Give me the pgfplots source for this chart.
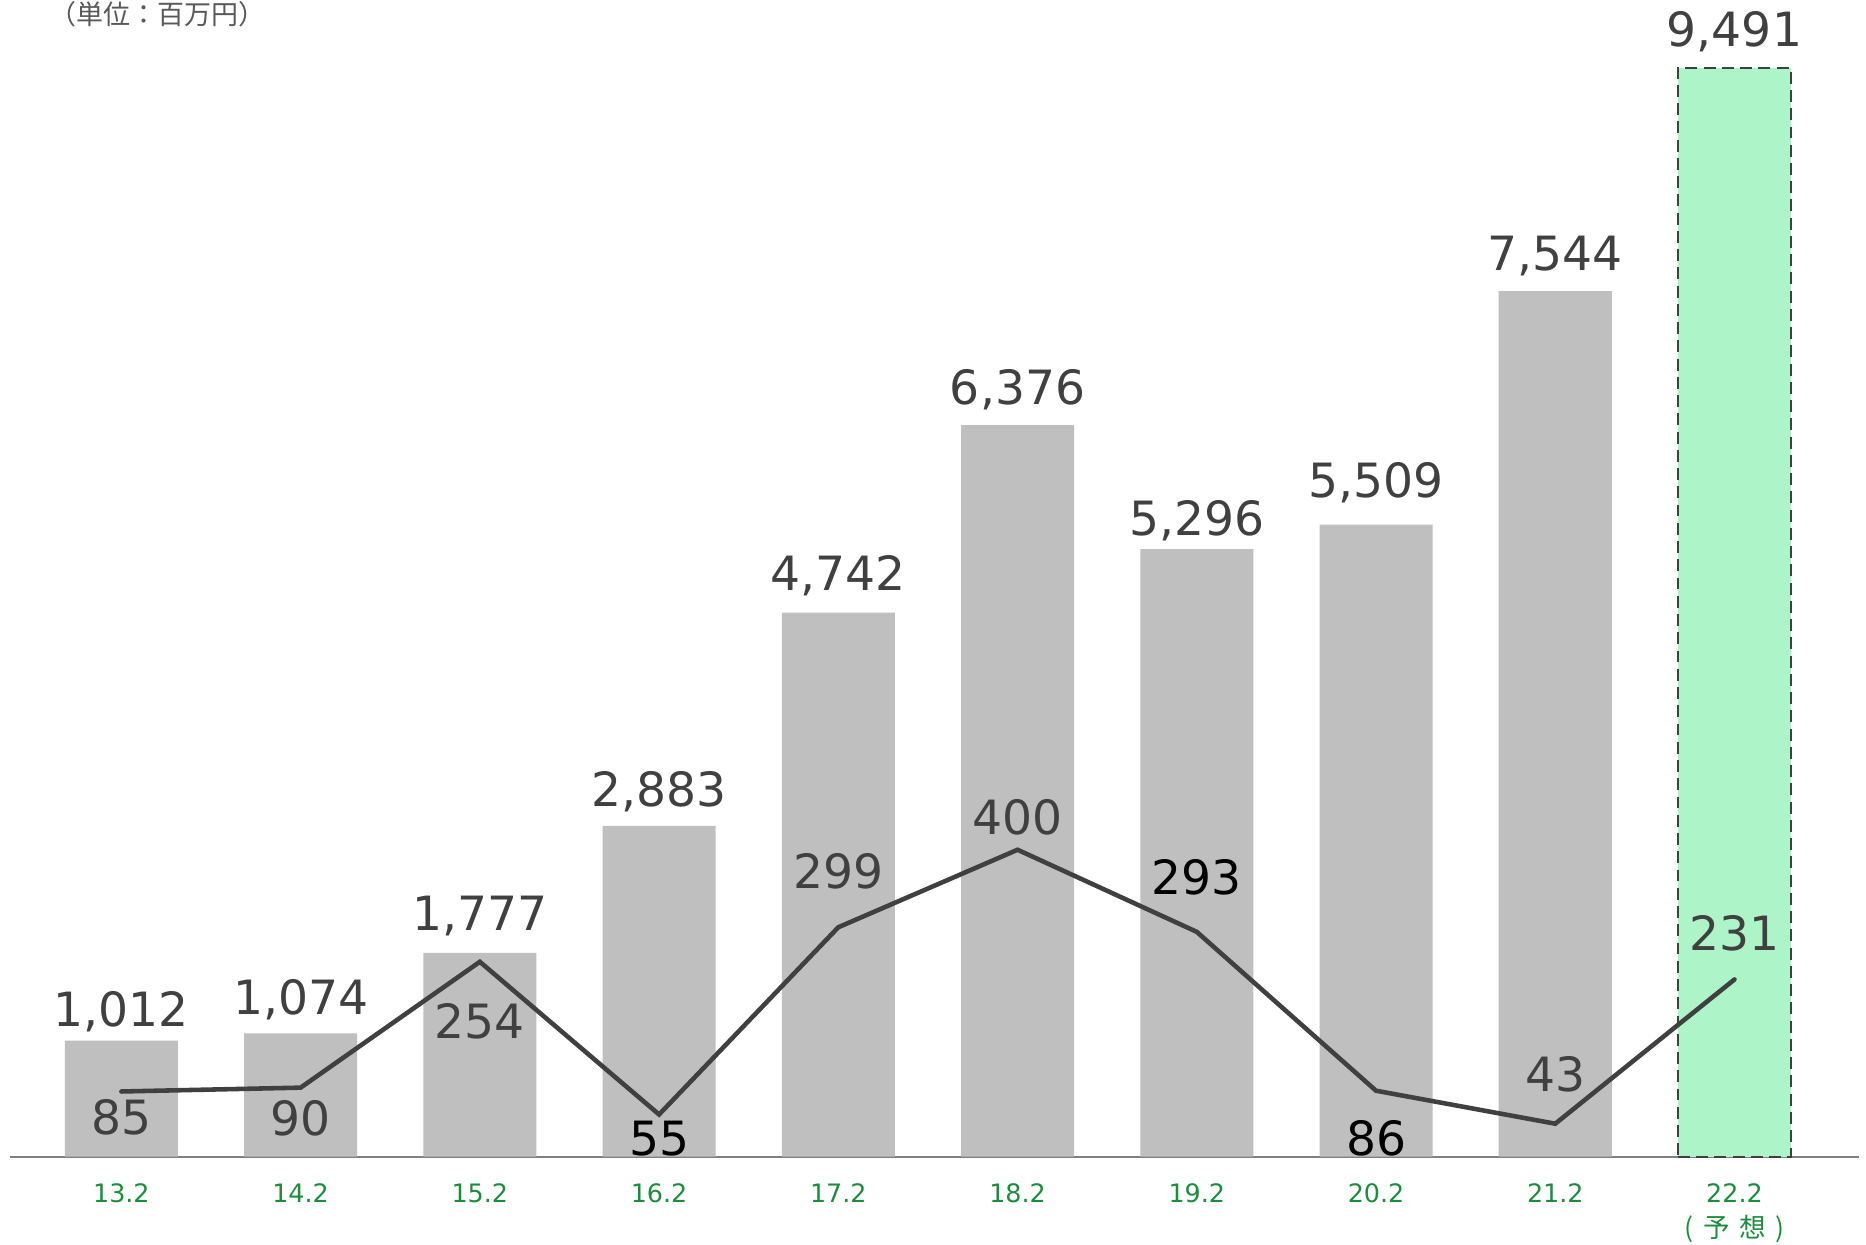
\documentclass[border=0pt]{standalone}
\usepackage{fontspec}
\usepackage{pgfplots}
\pgfplotsset{compat=1.18}
\setmainfont{DejaVu Sans}
\newfontfamily\cjk{Noto Sans CJK JP}
\definecolor{txtgray}{HTML}{404040}
\definecolor{bargray}{HTML}{BFBFBF}
\definecolor{bargreen}{HTML}{ADF5C8}
\definecolor{dashgray}{HTML}{404040}
\definecolor{linegray}{HTML}{404040}
\definecolor{tickgreen}{HTML}{1E8C3E}
\definecolor{axisgray}{HTML}{808080}
\definecolor{unitgray}{HTML}{595959}
\pgfplotsset{/pgf/number format/assume math mode=true}

\pgfplotstableread{
x y dy
0 1012 3.46
1 1074 4.81
2 1777 5.56
3 2883 4.96
4 4742 5.56
5 6376 5.26
6 5296 3.46
7 5509 6.91
8 7544 5.26
}\sales

\pgfplotstableread{
x y dy
9 9491 5.26
}\forecast

\pgfplotstableread{
x y dy c
0 85 -10.9 0
1 90 -11.95 0
2 254 -19.3 0
3 55 -10.3 100
4 299 9.8 0
5 400 3.8 0
6 293 9.5 100
7 86 -16.3 100
8 43 8.0 0
9 231 7.4 0
}\profit

\begin{document}
\begin{tikzpicture}
\begin{axis}[
  name=main,
  width=466.2pt, height=274.5pt, scale only axis,
  xmin=-0.624, xmax=9.694, ymin=0, ymax=9491,
  axis x line=bottom, axis y line=none,
  x axis line style={-, draw=axisgray, line width=0.6pt},
  xtick={0,...,9}, major tick length=0pt,
  xticklabels={13.2,14.2,15.2,16.2,17.2,18.2,19.2,20.2,21.2,22.2},
  xticklabel style={anchor=base, yshift=-11.6pt, text=tickgreen, font=\fontsize{6.4}{8}\selectfont},
  ytick=\empty,
  clip=false,
]
\addplot[ybar, bar width=28.5pt, bar shift=0pt, fill=bargray, draw=none,
  nodes near coords,
  visualization depends on={\thisrow{dy}\as\dy},
  nodes near coords style={anchor=base, yshift=\dy pt, text=txtgray, font=\fontsize{11.9}{14}\selectfont}]
  table[x=x, y=y] {\sales};
\addplot[ybar, bar width=28.5pt, bar shift=0pt, fill=bargreen, draw=dashgray, line width=0.6pt, dash pattern=on 3pt off 1.6pt,
  nodes near coords,
  visualization depends on={\thisrow{dy}\as\dy},
  nodes near coords style={anchor=base, yshift=\dy pt, text=txtgray, font=\fontsize{11.9}{14}\selectfont, solid}]
  table[x=x, y=y] {\forecast};
\node[anchor=base, yshift=-20.4pt, text=tickgreen, font=\cjk\fontsize{6.7}{8}\selectfont] at (axis cs:9,0) {(\hspace{0.35em}予\hspace{0.35em}想\hspace{0.35em})};
\node[text=unitgray, font=\cjk\fontsize{6.8}{8}\selectfont] at (axis description cs:0.0801,1.0492) {（単位：百万円）};
\coordinate (bl) at (axis description cs:-0.00515,-0.08087);
\coordinate (tr) at (axis description cs:1.00386,1.06230);
\end{axis}
\begin{axis}[
  width=466.2pt, height=274.5pt, scale only axis,
  xmin=-0.624, xmax=9.694, ymin=0, ymax=1419,
  axis lines=none, clip=false,
]
\addplot[color=linegray, line width=1.15pt, line cap=round,
  nodes near coords,
  visualization depends on={\thisrow{dy}\as\dy},
  visualization depends on={\thisrow{c}\as\cpct},
  nodes near coords style={anchor=base, yshift=\dy pt, text=black!\cpct!txtgray, font=\fontsize{11.9}{14}\selectfont}]
  table[x=x, y=y] {\profit};
\end{axis}
\pgfresetboundingbox
\path[use as bounding box] (bl) rectangle (tr);
\end{tikzpicture}
\end{document}
